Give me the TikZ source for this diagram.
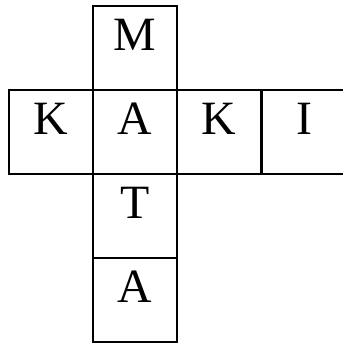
\documentclass[tikz,border=0pt]{standalone}
\usepackage{fontspec}
\setmainfont{Liberation Serif}
\usetikzlibrary{positioning}

\begin{document}
\begin{tikzpicture}[x=0.025cm, y=-0.025cm,
  cell/.style={draw=black, line width=0.05cm, rectangle, inner sep=0pt,
               minimum width=2.1cm, minimum height=2.1cm,
               text height=0.8cm, text depth=0.7cm,
               font=\fontsize{34}{40}\selectfont}]

%%=== COORDINATE PLAN (px, 1px = 0.025cm, y downwards) ================
%%  Column centres: c1=51  c2=135  c3=219  c4=304
%%  Row centres:    r1=48  r2=132  r3=216  r4=300
%%  Cell size 84 x 84; rightmost cell runs past the page edge
%%====================================================================
\useasboundingbox (0,0) rectangle (343,343);

%% --- Across: K A K I -----------------------------------------------
\node[cell] (k1) at ( 51,132) {K};
\node[cell] (a1) at (135,132) {A};
\node[cell] (k2) at (219,132) {K};
\node[cell] (i1) at (304,132) {I};

%% --- Down: M A T A --------------------------------------------------
\node[cell] (m1) at (135, 48) {M};
\node[cell] (t1) at (135,216) {T};
\node[cell] (a2) at (135,300) {A};

\end{tikzpicture}
\end{document}
